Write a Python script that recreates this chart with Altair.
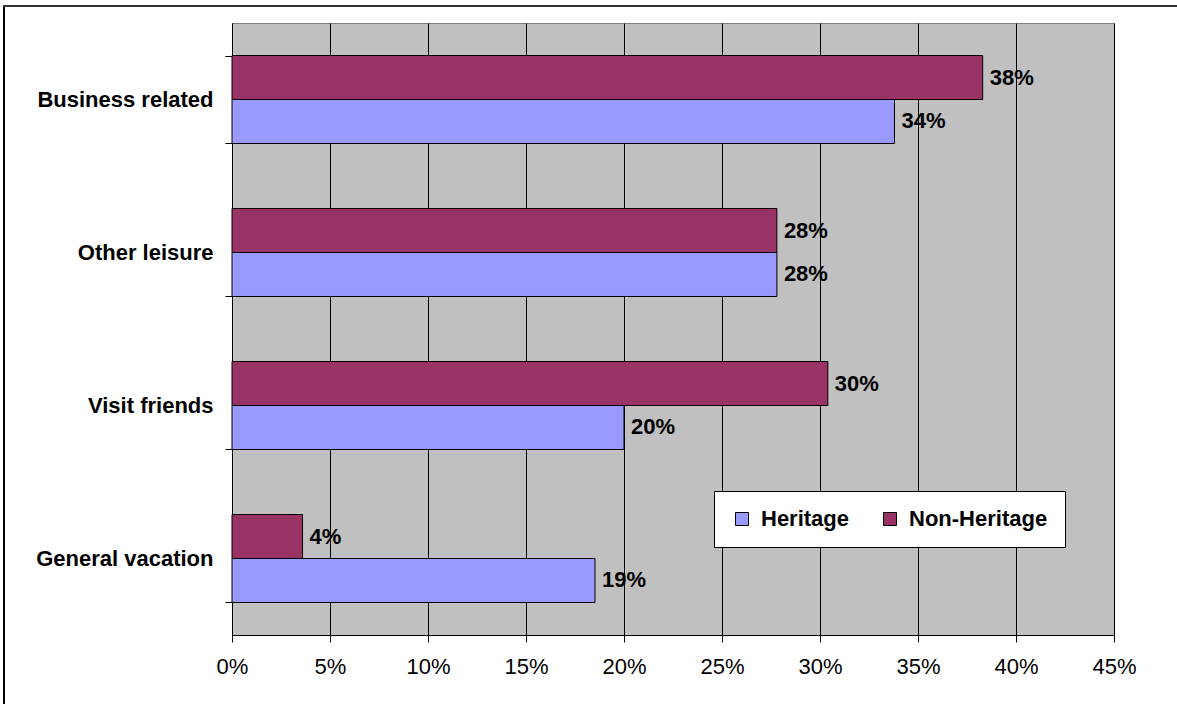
import altair as alt
import pandas as pd

categories = ["Business related", "Other leisure", "Visit friends", "General vacation"]
series = ["Heritage", "Non-Heritage"]
heritage = [0.338, 0.278, 0.200, 0.1852]
non_heritage = [0.383, 0.278, 0.304, 0.036]
x_ticks = [0, 0.05, 0.10, 0.15, 0.20, 0.25, 0.30, 0.35, 0.40, 0.45]
colors = ["#9999FF", "#993366"]

rows = []
for c, h, n in zip(categories, heritage, non_heritage):
    rows.append({"category": c, "series": "Heritage", "value": h})
    rows.append({"category": c, "series": "Non-Heritage", "value": n})
df = pd.DataFrame(rows)

FONT = "Liberation Sans"
FS = 22
W, H = 882, 612

y_enc = alt.Y(
    "category:N", sort=categories,
    scale=alt.Scale(paddingInner=0.425, paddingOuter=0.2125),
    axis=alt.Axis(title=None, labelFont=FONT, labelFontSize=FS, labelFontWeight="bold",
                  labelColor="black", domainColor="black", tickColor="black", tickSize=7,
                  tickBand="extent", labelPadding=12, grid=False, labelLimit=400),
)
y_off = alt.YOffset("series:N", sort=["Non-Heritage", "Heritage"],
                    scale=alt.Scale(paddingInner=0, paddingOuter=0))
x_enc = alt.X(
    "value:Q", scale=alt.Scale(domain=[0, 0.45], nice=False, zero=True),
    axis=alt.Axis(values=x_ticks, format=".0%", title=None, labelFont=FONT, labelFontSize=FS,
                  labelColor="black", domainColor="black", tickColor="black", tickSize=7,
                  labelPadding=14, grid=True, gridColor="black", gridWidth=1, gridOpacity=1,
                  labelFlush=False),
)

bars = alt.Chart(df).mark_bar(stroke="black", strokeWidth=1, opacity=1).encode(
    y=y_enc, yOffset=y_off, x=x_enc,
    color=alt.Color(
        "series:N", scale=alt.Scale(domain=series, range=colors),
        legend=alt.Legend(
            title=None, orient="none", legendX=482, legendY=468, direction="horizontal",
            fillColor="white", strokeColor="black", padding=17, cornerRadius=0,
            symbolType="square", symbolSize=169, symbolStrokeColor="black",
            symbolStrokeWidth=1, symbolOpacity=1, labelFont=FONT, labelFontSize=FS,
            labelFontWeight="bold", labelColor="black", labelOffset=8, columnPadding=29,
        ),
    ),
)

labels = alt.Chart(df).mark_text(
    align="left", baseline="middle", dx=7, font=FONT, fontSize=FS, fontWeight="bold",
    color="black",
).encode(y=y_enc, yOffset=y_off, x=x_enc, text=alt.Text("value:Q", format=".0%"))

frame_data = pd.DataFrame({"k": [0]})
left_line = alt.Chart(frame_data).mark_rule(color="black", strokeWidth=2).encode(
    x=alt.value(-228), y=alt.value(-17), y2=alt.value(720))
top_line = alt.Chart(frame_data).mark_rule(color="#333333", strokeWidth=2).encode(
    x=alt.value(-229), x2=alt.value(945), y=alt.value(-17))

chart = alt.layer(bars, labels, left_line, top_line).properties(
    width=W, height=H,
    autosize=alt.AutoSizeParams(type="none"),
    padding={"left": 232, "top": 23, "right": 63, "bottom": 69},
    background="white",
).configure_view(
    fill="#C0C0C0", stroke="#808080", strokeWidth=1,
)

chart.save("out.html", embed_options={"renderer": "svg", "actions": False})
